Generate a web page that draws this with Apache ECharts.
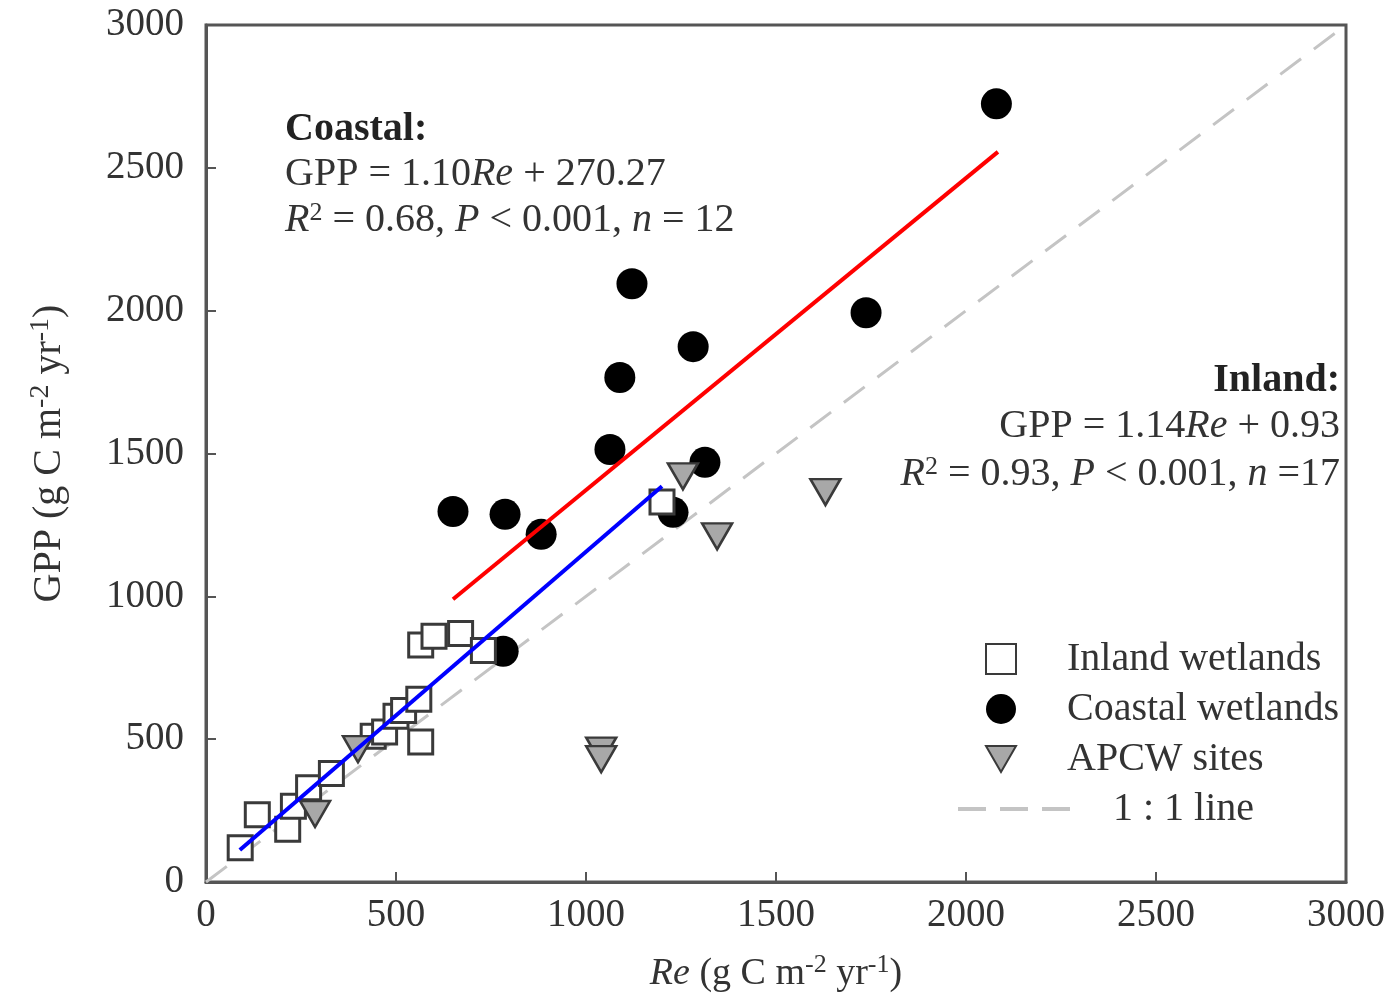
<!DOCTYPE html>
<html>
<head>
<meta charset="utf-8">
<script src="https://cdn.jsdelivr.net/npm/echarts@6/dist/echarts.min.js"></script>
<style>html,body{margin:0;padding:0;background:#fff}#c{width:1393px;height:1001px}</style>
</head>
<body>
<div id="c"></div>
<script>
// ---- data ----
const xTicks = [0, 500, 1000, 1500, 2000, 2500, 3000];
const yTicks = [0, 500, 1000, 1500, 2000, 2500, 3000];

const inlandRe  = [90, 135, 215, 230, 270, 330, 440, 470, 500, 520, 560, 565, 565, 600, 670, 730, 1200];
const inlandGPP = [120, 235, 185, 265, 330, 380, 510, 525, 580, 600, 640, 490, 830, 860, 870, 810, 1330];

const coastalRe  = [2080, 1121, 1737, 1282, 1089, 1063, 1313, 650, 787, 882, 1229, 782];
const coastalGPP = [2724, 2094, 1993, 1874, 1766, 1514, 1469, 1297, 1287, 1217, 1294, 808];

const apcwRe  = [287, 400, 1040, 1040, 1255, 1345, 1630];
const apcwGPP = [238, 465, 460, 430, 1420, 1210, 1365];

// fitted line end points
const coastalFitRe  = [650, 2084];
const coastalFitGPP = [990, 2556];
const inlandFitRe   = [89, 1200];
const inlandFitGPP  = [112, 1385];
const oneToOne      = [0, 3000];

const pairs = (a, b) => a.map((v, i) => [v, b[i]]);

const serif = 'Liberation Serif';
const chart = echarts.init(document.getElementById('c'));
const axisCol = '#555';
const txtCol = '#333';

const richStyles = {
  b: { fontFamily: serif, fontSize: 40, fontWeight: 'bold', fill: '#222' },
  i: { fontFamily: serif, fontSize: 40, fontStyle: 'italic', fill: txtCol },
  s: { fontFamily: serif, fontSize: 26, fill: txtCol, verticalAlign: 'top', lineHeight: 40 }
};
function annot(text, pos) {
  return Object.assign({
    type: 'text', z: 10,
    style: { text: text, font: '40px "Liberation Serif"', fill: txtCol, rich: richStyles }
  }, pos);
}

chart.setOption({
  animation: false,
  backgroundColor: '#fff',
  grid: { left: 206, right: 47, top: 25, bottom: 118, show: true, borderColor: axisCol, borderWidth: 3, backgroundColor: 'transparent' },
  xAxis: {
    type: 'value', min: xTicks[0], max: xTicks[xTicks.length - 1], interval: xTicks[1] - xTicks[0],
    axisLine: { show: true, lineStyle: { color: axisCol, width: 3 } },
    axisTick: { show: true, inside: true, length: 10, lineStyle: { color: axisCol, width: 2 } },
    splitLine: { show: false },
    axisLabel: { fontFamily: serif, fontSize: 39, color: txtCol, margin: 14, formatter: v => String(v) },
    name: '{it|Re} (g C m{sup|-2} yr{sup|-1})',
    nameLocation: 'middle', nameGap: 70,
    nameTextStyle: {
      fontFamily: serif, fontSize: 38, color: txtCol, lineHeight: 44,
      rich: {
        it: { fontFamily: serif, fontSize: 38, fontStyle: 'italic', color: txtCol, lineHeight: 44 },
        sup: { fontFamily: serif, fontSize: 26, color: txtCol, verticalAlign: 'top', lineHeight: 34 }
      }
    }
  },
  yAxis: {
    type: 'value', min: yTicks[0], max: yTicks[yTicks.length - 1], interval: yTicks[1] - yTicks[0],
    axisLine: { show: true, lineStyle: { color: axisCol, width: 3 } },
    axisTick: { show: true, inside: true, length: 10, lineStyle: { color: axisCol, width: 2 } },
    splitLine: { show: false },
    axisLabel: { fontFamily: serif, fontSize: 39, color: txtCol, margin: 22, formatter: v => String(v) },
    name: 'GPP (g C m{sup|-2} yr{sup|-1})',
    nameLocation: 'middle', nameGap: 135, nameRotate: 90,
    nameTextStyle: {
      fontFamily: serif, fontSize: 40, color: txtCol, lineHeight: 44,
      rich: {
        sup: { fontFamily: serif, fontSize: 28, color: txtCol, verticalAlign: 'top', lineHeight: 34 }
      }
    }
  },
  legend: [
    {
      orient: 'vertical', left: 980, top: 634, itemWidth: 30, itemHeight: 30, itemGap: 10,
      data: [
        { name: 'Inland wetlands', icon: 'rect' },
        { name: 'Coastal wetlands', icon: 'circle' },
        { name: 'APCW sites', icon: 'path://M0,0 L30,0 L15,26 Z' }
      ],
      textStyle: { fontFamily: serif, fontSize: 40, color: txtCol, padding: [0, 0, 0, 46] }
    },
    {
      orient: 'vertical', left: 953, top: 784, itemWidth: 112, itemHeight: 30, itemGap: 10,
      data: [
        { name: '1 : 1 line', icon: 'path://M0,0 H28 V4 H0 Z M42,0 H70 V4 H42 Z M84,0 H112 V4 H84 Z',
          itemStyle: { color: '#c4c4c4', borderWidth: 0 } }
      ],
      textStyle: { fontFamily: serif, fontSize: 40, color: txtCol, padding: [0, 0, 0, 38] }
    }
  ],
  series: [
    {
      name: '1 : 1 line', type: 'line', data: pairs(oneToOne, oneToOne),
      symbol: 'none', z: 1,
      lineStyle: { color: '#c4c4c4', width: 3, type: [26, 16] },
      itemStyle: { color: '#c4c4c4' }
    },
    {
      name: 'Coastal wetlands', type: 'scatter', data: pairs(coastalRe, coastalGPP),
      symbol: 'circle', symbolSize: 31, z: 2,
      itemStyle: { color: '#000', opacity: 1 }
    },
    {
      name: 'Inland wetlands', type: 'scatter', data: pairs(inlandRe, inlandGPP),
      symbol: 'rect', symbolSize: 24, z: 3,
      itemStyle: { color: '#fff', borderColor: '#3a3a3a', borderWidth: 3, opacity: 1 }
    },
    {
      name: 'APCW sites', type: 'scatter', data: pairs(apcwRe, apcwGPP),
      symbol: 'triangle', symbolSize: [30, 26], symbolRotate: 180, z: 4,
      itemStyle: { color: '#a8a8a8', borderColor: '#3a3a3a', borderWidth: 2.5, opacity: 1 }
    },
    {
      name: 'coastalFit', type: 'line', data: pairs(coastalFitRe, coastalFitGPP),
      symbol: 'none', z: 5, lineStyle: { color: '#ff0000', width: 4 }
    },
    {
      name: 'inlandFit', type: 'line', data: pairs(inlandFitRe, inlandFitGPP),
      symbol: 'none', z: 5, lineStyle: { color: '#0000ff', width: 4 }
    }
  ],
  graphic: [
    annot('{b|Coastal:}', { left: 285, top: 110 }),
    annot('GPP = 1.10{i|Re} + 270.27', { left: 285, top: 154 }),
    annot('{i|R}{s|2} = 0.68, {i|P} < 0.001, {i|n} = 12', { left: 285, top: 200 }),
    annot('{b|Inland:}', { right: 53, top: 361 }),
    annot('GPP = 1.14{i|Re} + 0.93', { right: 53, top: 406 }),
    annot('{i|R}{s|2} = 0.93, {i|P} < 0.001, {i|n} =17', { right: 53, top: 454 })
  ]
});
</script>
</body>
</html>
